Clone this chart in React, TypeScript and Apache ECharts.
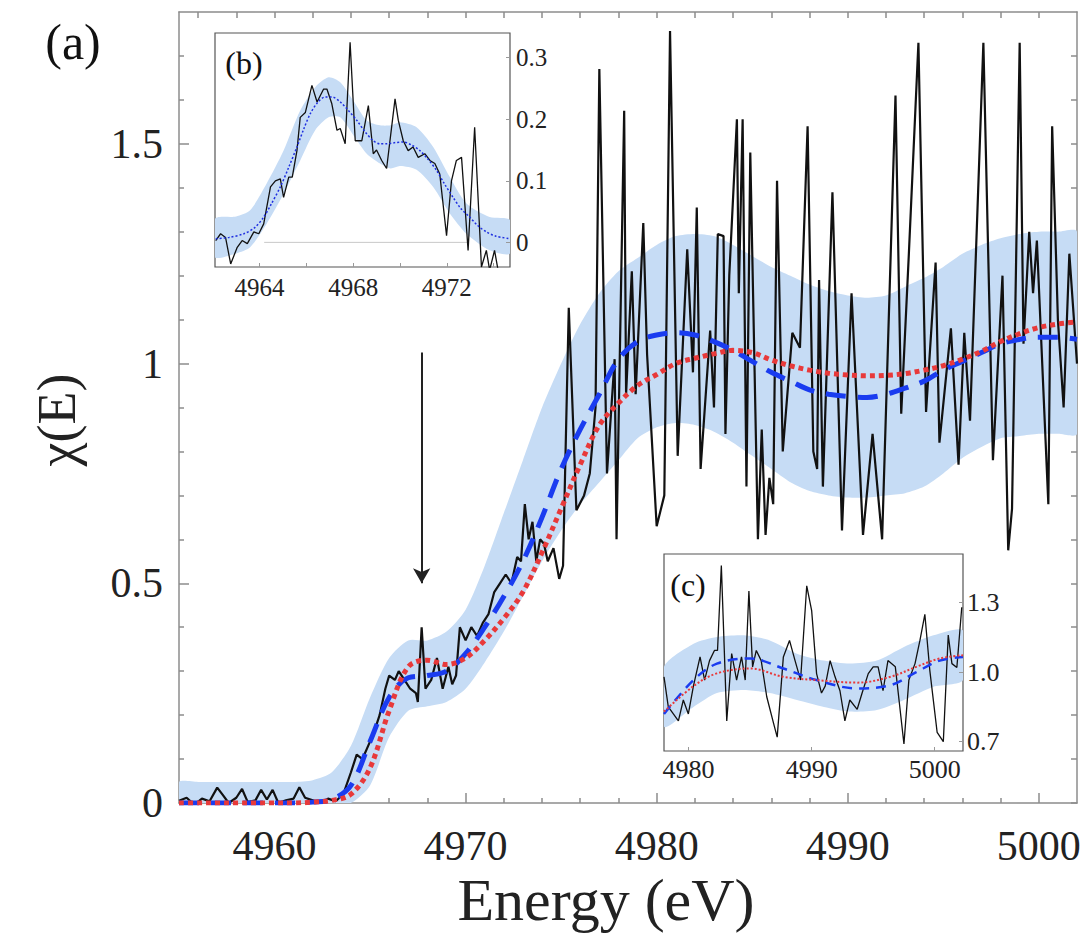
import React, { useEffect, useRef } from "react";
import * as echarts from "echarts";

// ---------------- data ----------------
// main panel (a): measured chi(E) [energy, chi]
const measuredMain: [number, number][] = [
  [4955.0, 0.005], [4955.4, 0.012], [4955.8, -0.004], [4956.2, 0.01], [4956.6, 0.004],
  [4957.0, 0.035], [4957.3, 0.018], [4957.6, 0.0], [4958.0, 0.012], [4958.3, 0.032],
  [4958.6, 0.002], [4959.0, 0.006], [4959.3, 0.03], [4959.6, 0.008], [4959.9, 0.03],
  [4960.2, 0.0], [4960.6, 0.006], [4961.0, 0.01], [4961.3, 0.036], [4961.6, 0.012],
  [4962.0, 0.006], [4962.4, 0.0], [4962.8, 0.01], [4963.2, 0.004], [4963.6, 0.02],
  [4964.0, 0.07], [4964.3, 0.11], [4964.6, 0.1], [4964.9, 0.13], [4965.2, 0.16],
  [4965.5, 0.2], [4965.8, 0.26], [4966.0, 0.29], [4966.3, 0.28], [4966.5, 0.3],
  [4966.8, 0.28], [4967.1, 0.26], [4967.4, 0.25], [4967.5, 0.23], [4967.7, 0.4],
  [4967.9, 0.26], [4968.2, 0.28], [4968.5, 0.33], [4968.8, 0.26], [4969.1, 0.31],
  [4969.3, 0.27], [4969.5, 0.29], [4969.7, 0.4], [4970.0, 0.37], [4970.3, 0.4],
  [4970.6, 0.38], [4970.9, 0.41], [4971.2, 0.43], [4971.5, 0.48], [4971.8, 0.5],
  [4972.1, 0.52], [4972.4, 0.5], [4972.7, 0.56], [4972.9, 0.55], [4973.1, 0.68],
  [4973.3, 0.6], [4973.5, 0.64], [4973.7, 0.55], [4973.9, 0.6], [4974.1, 0.59],
  [4974.3, 0.55], [4974.6, 0.58], [4974.9, 0.51], [4975.1, 0.54], [4975.4, 1.127],
  [4975.8, 0.666], [4976.2, 0.7], [4976.5, 0.75], [4976.8, 0.9], [4977.0, 1.67],
  [4977.4, 0.75], [4977.8, 1.01], [4977.9, 0.6], [4978.3, 1.575], [4978.4, 0.93],
  [4978.7, 1.21], [4978.9, 0.93], [4979.3, 1.32], [4979.5, 1.02], [4980.0, 0.63],
  [4980.4, 0.7], [4980.7, 1.757], [4981.1, 0.79], [4981.6, 1.26], [4981.9, 0.98],
  [4982.1, 1.355], [4982.3, 0.76], [4982.8, 1.075], [4983.0, 0.9], [4983.2, 1.295],
  [4983.5, 1.29], [4983.6, 0.84], [4983.8, 1.2], [4984.2, 1.556], [4984.3, 1.16],
  [4984.5, 1.556], [4984.7, 0.72], [4984.9, 1.48], [4985.3, 0.6], [4985.5, 0.85],
  [4985.7, 0.61], [4985.9, 0.74], [4986.1, 0.68], [4986.3, 1.416], [4986.6, 0.8],
  [4987.1, 1.07], [4987.5, 1.036], [4987.9, 1.54], [4988.2, 0.8], [4988.4, 0.76],
  [4988.5, 1.19], [4988.7, 0.72], [4989.2, 1.39], [4989.7, 0.62], [4990.2, 1.16],
  [4990.8, 0.61], [4991.3, 0.84], [4991.8, 0.6], [4992.5, 1.61], [4992.8, 0.886],
  [4993.2, 1.25], [4993.7, 1.73], [4994.1, 0.89], [4994.6, 1.23], [4994.8, 0.82],
  [4995.4, 1.08], [4995.8, 0.77], [4996.1, 1.07], [4996.4, 0.87], [4997.1, 1.73],
  [4997.6, 0.78], [4998.1, 1.2], [4998.4, 0.575], [4998.6, 0.67], [4999.0, 1.73],
  [4999.2, 1.045], [4999.5, 1.3], [4999.7, 1.16], [4999.9, 1.28], [5000.5, 0.68],
  [5000.7, 1.54], [5001.0, 1.1], [5001.3, 0.9], [5001.6, 1.25], [5002.0, 1.0],
];

// main panel fitted curves, on a 1 eV grid
const fitEnergy = [
  4955, 4956, 4957, 4958, 4959, 4960, 4961, 4962, 4963, 4964, 4965, 4966, 4967, 4968, 4969, 4970,
  4971, 4972, 4973, 4974, 4975, 4976, 4977, 4978, 4979, 4980, 4981, 4982, 4983, 4984, 4985, 4986,
  4987, 4988, 4989, 4990, 4991, 4992, 4993, 4994, 4995, 4996, 4997, 4998, 4999, 5000, 5001, 5002,
];
const meanMain = [
  0, 0, 0, 0, 0, 0, 0, 0.002, 0.008, 0.04, 0.14, 0.24, 0.285, 0.29, 0.3, 0.34,
  0.4, 0.47, 0.55, 0.65, 0.76, 0.85, 0.93, 1.01, 1.05, 1.065, 1.07, 1.065, 1.05, 1.03, 1.005, 0.98,
  0.96, 0.94, 0.93, 0.925, 0.923, 0.93, 0.944, 0.96, 0.985, 1.005, 1.025, 1.045, 1.055, 1.06, 1.06, 1.055,
];
const refMain = [
  0, 0, 0, 0, 0, 0, 0, 0.002, 0.006, 0.02, 0.08, 0.21, 0.31, 0.325, 0.315, 0.33,
  0.37, 0.42, 0.48, 0.57, 0.67, 0.77, 0.86, 0.91, 0.95, 0.975, 1.0, 1.012, 1.022, 1.03, 1.025, 1.008,
  0.995, 0.985, 0.978, 0.974, 0.972, 0.973, 0.977, 0.985, 0.995, 1.01, 1.028, 1.05, 1.068, 1.082, 1.09, 1.095,
];
const bandUpperMain = [
  0.048, 0.048, 0.048, 0.048, 0.048, 0.048, 0.048, 0.052, 0.07, 0.13, 0.24, 0.33, 0.37, 0.37, 0.39, 0.44,
  0.54, 0.66, 0.78, 0.9, 1.0, 1.09, 1.16, 1.21, 1.24, 1.27, 1.29, 1.295, 1.29, 1.27, 1.245, 1.22,
  1.2, 1.18, 1.165, 1.155, 1.15, 1.155, 1.175, 1.195, 1.22, 1.25, 1.27, 1.285, 1.295, 1.3, 1.3, 1.3,
];
const bandLowerMain = [
  -0.004, -0.004, -0.004, -0.004, -0.004, -0.004, -0.004, -0.004, -0.004, 0, 0.04, 0.15, 0.21, 0.22, 0.23, 0.26,
  0.32, 0.39, 0.47, 0.55, 0.62, 0.68, 0.73, 0.78, 0.83, 0.855, 0.865, 0.86, 0.845, 0.82, 0.79, 0.76,
  0.73, 0.71, 0.7, 0.695, 0.695, 0.7, 0.705, 0.72, 0.75, 0.785, 0.81, 0.83, 0.835, 0.84, 0.84, 0.84,
];

// arrow annotation (energy, from, to)
const arrowEnergy = 4967.7;
const arrowFrom = 1.025;
const arrowTo = 0.5;

// inset (b): pre-edge
const measuredB: [number, number][] = [
  [4962.13, 0.003], [4962.34, 0.014], [4962.55, 0.008], [4962.77, -0.035], [4963.05, -0.008],
  [4963.26, 0.003], [4963.48, -0.002], [4963.76, 0.017], [4963.97, 0.014], [4964.18, 0.03],
  [4964.47, 0.09], [4964.68, 0.1], [4964.89, 0.103], [4965.03, 0.073], [4965.25, 0.106],
  [4965.4, 0.106], [4965.6, 0.149], [4965.74, 0.203], [4965.96, 0.211], [4966.24, 0.255],
  [4966.46, 0.228], [4966.74, 0.249], [4966.88, 0.249], [4967.09, 0.225], [4967.31, 0.182],
  [4967.45, 0.185], [4967.66, 0.16], [4967.87, 0.325], [4968.09, 0.165], [4968.37, 0.165],
  [4968.65, 0.222], [4968.86, 0.144], [4969.0, 0.15], [4969.22, 0.133], [4969.43, 0.12],
  [4969.79, 0.233], [4969.93, 0.198], [4970.14, 0.165], [4970.35, 0.149], [4970.56, 0.155],
  [4970.78, 0.138], [4971.06, 0.144], [4971.28, 0.133], [4971.49, 0.128], [4971.7, 0.111],
  [4971.99, 0.011], [4972.2, 0.1], [4972.41, 0.133], [4972.63, 0.138], [4972.91, -0.013],
  [4973.19, 0.187], [4973.48, -0.04], [4973.69, -0.013], [4973.83, -0.045], [4974.04, -0.013],
  [4974.19, -0.045], [4974.4, -0.06],
];
const fitB: [number, number][] = [
  [4962.13, 0.006], [4962.7, 0.008], [4963.33, 0.014], [4963.8, 0.024], [4964.18, 0.041],
  [4964.5, 0.062], [4964.89, 0.09], [4965.25, 0.122], [4965.6, 0.155], [4965.9, 0.185],
  [4966.17, 0.209], [4966.5, 0.228], [4966.8, 0.236], [4967.1, 0.236], [4967.45, 0.228],
  [4967.8, 0.214], [4968.16, 0.198], [4968.5, 0.18], [4968.86, 0.165], [4969.15, 0.16],
  [4969.43, 0.16], [4969.8, 0.162], [4970.14, 0.163], [4970.5, 0.158], [4970.85, 0.149],
  [4971.2, 0.135], [4971.56, 0.117], [4971.9, 0.095], [4972.27, 0.073], [4972.6, 0.055],
  [4972.98, 0.041], [4973.3, 0.028], [4973.69, 0.017], [4974.1, 0.01], [4974.7, 0.006],
];
const bandEnergyB = [
  4962.1, 4963.0, 4963.6, 4964.3, 4965.03, 4965.74, 4966.38, 4966.95, 4967.45, 4968.01,
  4968.58, 4969.15, 4969.6, 4970.0, 4970.71, 4971.42, 4972.13, 4972.84, 4973.83, 4974.7,
];
const bandUpperB = [
  0.038, 0.042, 0.052, 0.095, 0.149, 0.214, 0.252, 0.268, 0.26, 0.23,
  0.198, 0.19, 0.19, 0.195, 0.187, 0.155, 0.106, 0.063, 0.041, 0.036,
];
const bandLowerB = [
  -0.024, -0.018, -0.008, 0.03, 0.079, 0.133, 0.182, 0.203, 0.203, 0.174,
  0.144, 0.128, 0.12, 0.124, 0.118, 0.09, 0.047, 0.014, -0.013, -0.018,
];
const baselineB: [number, number][] = [[4964.2, 0], [4972.9, 0]];

// inset (c): high-energy region
const measuredC: [number, number][] = [
  [4978.0, 0.98], [4978.35, 0.85], [4978.76, 0.82], [4979.17, 0.79], [4979.57, 0.88],
  [4979.98, 0.82], [4980.39, 0.94], [4980.93, 1.066], [4981.3, 0.966], [4981.7, 1.05],
  [4982.1, 1.094], [4982.35, 1.094], [4982.66, 1.46], [4983.1, 0.79], [4983.5, 1.08],
  [4983.9, 0.966], [4984.3, 1.066], [4984.6, 0.966], [4984.9, 1.35], [4985.2, 1.023],
  [4985.5, 1.094], [4985.9, 1.05], [4986.35, 0.894], [4986.9, 0.78], [4987.2, 0.72],
  [4987.7, 1.066], [4988.2, 1.137], [4988.65, 1.05], [4989.1, 0.966], [4989.6, 1.373],
  [4990.0, 1.266], [4990.4, 0.994], [4990.8, 0.91], [4991.1, 0.94], [4991.5, 1.05],
  [4991.9, 0.98], [4992.3, 0.92], [4992.7, 0.79], [4993.1, 0.88], [4993.7, 0.84],
  [4994.1, 0.91], [4994.6, 0.994], [4995.0, 1.023], [4995.4, 1.023], [4995.8, 0.92],
  [4996.2, 1.05], [4996.8, 1.023], [4997.5, 0.69], [4997.9, 0.966], [4998.4, 1.037],
  [4998.8, 1.137], [4999.2, 1.25], [4999.6, 1.009], [5000.2, 0.74], [5000.7, 0.7],
  [5001.1, 1.16], [5001.4, 1.037], [5001.8, 1.02], [5002.2, 1.28],
];
const fitEnergyC = [4978, 4980.4, 4982.3, 4985, 4987.7, 4990.4, 4993.7, 4996.4, 4998.5, 5000.4, 5002.3];
const meanC = [0.82, 0.966, 1.037, 1.059, 1.016, 0.966, 0.93, 0.944, 1.0, 1.05, 1.066];
const refC = [0.83, 0.94, 0.995, 1.016, 0.98, 0.966, 0.955, 0.98, 1.023, 1.059, 1.073];
const bandEnergyC = [4978, 4980.4, 4982.3, 4984.5, 4986.6, 4988.8, 4991.0, 4993.1, 4995.3, 4997.5, 4999.9, 5002.3];
const bandUpperC = [1.023, 1.123, 1.152, 1.159, 1.137, 1.08, 1.05, 1.037, 1.05, 1.109, 1.159, 1.18];
const bandLowerC = [0.765, 0.85, 0.91, 0.923, 0.91, 0.88, 0.85, 0.83, 0.837, 0.88, 0.937, 0.966];

// tick labels
const mainXLabels = [4960, 4970, 4980, 4990, 5000];
const mainXMinor = [4956, 4958, 4962, 4964, 4966, 4968, 4972, 4974, 4976, 4978, 4982, 4984, 4986, 4988, 4992, 4994, 4996, 4998];
const mainYLabels = [0, 0.5, 1, 1.5];
const mainYMinor = [0.1, 0.2, 0.3, 0.4, 0.6, 0.7, 0.8, 0.9, 1.1, 1.2, 1.3, 1.4, 1.6, 1.7];
const insetBXLabels = [4964, 4968, 4972];
const insetBXTicks = [4964, 4966, 4968, 4970, 4972, 4974];
const insetBYLabels = [0, 0.1, 0.2, 0.3];
const insetCXLabels = [4980, 4990, 5000];
const insetCYLabels = [0.7, 1.0, 1.3];

// ---------------- styling ----------------
const SERIF = "'Liberation Serif', 'DejaVu Serif', serif";
const AXIS_GRAY = "#8c8c8c";
const BAND = "#c6dcf5";
const BLUE = "#1a3cf0";
const RED = "#e8393a";
const BLACK = "#111111";

const pairs = (xs: number[], ys: number[]) => xs.map((x, i) => [x, ys[i]]);
const plain = (v: number) => String(v);

function bandSeries(name: string, xi: number, yi: number, xs: number[], up: number[], lo: number[], z: number) {
  return {
    name, type: "custom", xAxisIndex: xi, yAxisIndex: yi, z, silent: true,
    data: xs.map((x, i) => [x, lo[i], up[i]]),
    encode: { x: 0, y: [1, 2] },
    renderItem: (params: any, api: any) => {
      if (params.dataIndex !== 0) return null;
      const top = xs.map((x, i) => api.coord([x, up[i]]));
      const bottom = xs.map((x, i) => api.coord([x, lo[i]])).reverse();
      const cs = params.coordSys;
      return {
        type: "group",
        clipPath: { type: "rect", shape: { x: cs.x, y: cs.y, width: cs.width, height: cs.height } },
        children: [
          {
            type: "polygon",
            shape: { points: [...top, ...bottom], smooth: 0.25 },
            style: { fill: BAND, stroke: "none" },
          },
        ],
      };
    },
  };
}

function hiddenAxisBase() {
  return { splitLine: { show: false }, axisLabel: { show: false } };
}

export default function App() {
  const ref = useRef<HTMLDivElement>(null);
  useEffect(() => {
    if (!ref.current) return;
    const chart = echarts.init(ref.current, null, { renderer: "svg" });
    const tickStyle = { color: AXIS_GRAY, width: 1.5 };
    const labelBase = { color: "#222", fontFamily: SERIF, fontStyle: "normal", fontWeight: "normal" };
    const option: any = {
      animation: false,
      backgroundColor: "#ffffff",
      textStyle: { fontFamily: SERIF },
      grid: [
        { left: 179, top: 12, width: 898, height: 791, show: false, containLabel: false },
        { left: 215, top: 33, width: 295, height: 234, show: true, backgroundColor: "#ffffff", borderColor: "#555", borderWidth: 1.2, z: 20 },
        { left: 664, top: 554, width: 299, height: 197, show: true, backgroundColor: "#ffffff", borderColor: "#555", borderWidth: 1.2, z: 20 },
      ],
      xAxis: [
        {
          type: "value", gridIndex: 0, min: 4955, max: 5002, position: "bottom",
          axisLine: { show: true, onZero: false, lineStyle: tickStyle },
          axisTick: { show: true, inside: true, length: 10, customValues: mainXLabels, lineStyle: tickStyle },
          axisLabel: { show: true, customValues: mainXLabels, formatter: plain, fontSize: 42, margin: 22, ...labelBase },
          splitLine: { show: false },
        },
        {
          type: "value", gridIndex: 0, min: 4955, max: 5002, position: "bottom", ...hiddenAxisBase(),
          axisLine: { show: false, onZero: false },
          axisTick: { show: true, inside: true, length: 5, customValues: mainXMinor, lineStyle: tickStyle },
        },
        {
          type: "value", gridIndex: 0, min: 4955, max: 5002, position: "top", ...hiddenAxisBase(),
          axisLine: { show: true, onZero: false, lineStyle: tickStyle },
          axisTick: { show: true, inside: true, length: 6, customValues: [...mainXLabels, ...mainXMinor], lineStyle: tickStyle },
        },
        {
          type: "value", gridIndex: 1, min: 4962.1, max: 4974.7, position: "bottom", z: 25,
          axisLine: { show: false, onZero: false },
          axisTick: { show: true, inside: true, length: 4, customValues: insetBXTicks, lineStyle: { color: "#999" } },
          axisLabel: { show: true, customValues: insetBXLabels, formatter: plain, fontSize: 25, margin: 8, ...labelBase },
          splitLine: { show: false },
        },
        {
          type: "value", gridIndex: 2, min: 4978, max: 5002.3, position: "bottom", z: 25,
          axisLine: { show: false, onZero: false },
          axisTick: { show: true, inside: true, length: 4, customValues: insetCXLabels, lineStyle: { color: "#999" } },
          axisLabel: { show: true, customValues: insetCXLabels, formatter: plain, fontSize: 26, margin: 5, ...labelBase },
          splitLine: { show: false },
        },
      ],
      yAxis: [
        {
          type: "value", gridIndex: 0, min: 0, max: 1.8, position: "left",
          axisLine: { show: true, onZero: false, lineStyle: tickStyle },
          axisTick: { show: true, inside: true, length: 10, customValues: mainYLabels, lineStyle: tickStyle },
          axisLabel: { show: true, customValues: mainYLabels, formatter: plain, fontSize: 42, margin: 16, ...labelBase },
          splitLine: { show: false },
        },
        {
          type: "value", gridIndex: 0, min: 0, max: 1.8, position: "left", ...hiddenAxisBase(),
          axisLine: { show: false, onZero: false },
          axisTick: { show: true, inside: true, length: 5, customValues: mainYMinor, lineStyle: tickStyle },
        },
        {
          type: "value", gridIndex: 0, min: 0, max: 1.8, position: "right", ...hiddenAxisBase(),
          axisLine: { show: true, onZero: false, lineStyle: tickStyle },
          axisTick: { show: true, inside: true, length: 6, customValues: [...mainYLabels, ...mainYMinor], lineStyle: tickStyle },
        },
        {
          type: "value", gridIndex: 1, min: -0.04, max: 0.34, position: "right", z: 25,
          axisLine: { show: false, onZero: false },
          axisTick: { show: true, inside: true, length: 4, customValues: insetBYLabels, lineStyle: { color: "#999" } },
          axisLabel: { show: true, customValues: insetBYLabels, formatter: plain, fontSize: 25, margin: 6, ...labelBase },
          splitLine: { show: false },
        },
        {
          type: "value", gridIndex: 2, min: 0.66, max: 1.51, position: "right", z: 25,
          axisLine: { show: false, onZero: false },
          axisTick: { show: true, inside: true, length: 4, customValues: insetCYLabels, lineStyle: { color: "#999" } },
          axisLabel: {
            show: true, customValues: insetCYLabels, fontSize: 26, margin: 4, ...labelBase,
            formatter: (v: number) => v.toFixed(1),
          },
          splitLine: { show: false },
        },
      ],
      series: [
        bandSeries("bandMain", 0, 0, fitEnergy, bandUpperMain, bandLowerMain, 1),
        {
          name: "measured", type: "line", xAxisIndex: 0, yAxisIndex: 0, data: measuredMain,
          symbol: "none", lineStyle: { color: BLACK, width: 2.2 }, z: 2,
          markLine: {
            silent: true, symbol: ["none", "arrow"], symbolSize: [13, 15], label: { show: false },
            lineStyle: { color: "#222", width: 2, type: "solid" },
            data: [[{ coord: [arrowEnergy, arrowFrom] }, { coord: [arrowEnergy, arrowTo] }]],
          },
        },
        {
          name: "mean", type: "line", xAxisIndex: 0, yAxisIndex: 0, data: pairs(fitEnergy, meanMain),
          symbol: "none", smooth: 0.35, lineStyle: { color: BLUE, width: 5, type: [20, 12] }, z: 3,
        },
        {
          name: "reference", type: "line", xAxisIndex: 0, yAxisIndex: 0, data: pairs(fitEnergy, refMain),
          symbol: "none", smooth: 0.35, lineStyle: { color: RED, width: 5, type: [5, 4] }, z: 4,
        },
        // inset (b)
        bandSeries("bandB", 3, 3, bandEnergyB, bandUpperB, bandLowerB, 21),
        {
          name: "baselineB", type: "line", xAxisIndex: 3, yAxisIndex: 3, data: baselineB,
          symbol: "none", lineStyle: { color: "#c8c8c8", width: 1 }, z: 22,
        },
        {
          name: "measuredB", type: "line", xAxisIndex: 3, yAxisIndex: 3, data: measuredB,
          symbol: "none", lineStyle: { color: BLACK, width: 1.3 }, z: 23,
        },
        {
          name: "fitB", type: "line", xAxisIndex: 3, yAxisIndex: 3, data: fitB,
          symbol: "none", smooth: 0.3, lineStyle: { color: "#1f2fe0", width: 1.5, type: [2, 2] }, z: 24,
        },
        // inset (c)
        bandSeries("bandC", 4, 4, bandEnergyC, bandUpperC, bandLowerC, 21),
        {
          name: "measuredC", type: "line", xAxisIndex: 4, yAxisIndex: 4, data: measuredC,
          symbol: "none", lineStyle: { color: BLACK, width: 1.3 }, z: 23,
        },
        {
          name: "meanC", type: "line", xAxisIndex: 4, yAxisIndex: 4, data: pairs(fitEnergyC, meanC),
          symbol: "none", smooth: 0.35, lineStyle: { color: BLUE, width: 2.5, type: [10, 7] }, z: 24,
        },
        {
          name: "refC", type: "line", xAxisIndex: 4, yAxisIndex: 4, data: pairs(fitEnergyC, refC),
          symbol: "none", smooth: 0.35, lineStyle: { color: RED, width: 2, type: [2, 2] }, z: 25,
        },
      ],
      graphic: [
        { type: "text", x: 73, y: 42, z: 100, style: { text: "(a)", fontSize: 50, fontFamily: SERIF, fill: "#111", textAlign: "center", textVerticalAlign: "middle" } },
        { type: "text", x: 244, y: 63, z: 100, style: { text: "(b)", fontSize: 32, fontFamily: SERIF, fill: "#111", textAlign: "center", textVerticalAlign: "middle" } },
        { type: "text", x: 688, y: 585, z: 100, style: { text: "(c)", fontSize: 32, fontFamily: SERIF, fill: "#111", textAlign: "center", textVerticalAlign: "middle" } },
        { type: "text", x: 606, y: 900, z: 100, style: { text: "Energy (eV)", fontSize: 60, fontFamily: SERIF, fill: "#222", textAlign: "center", textVerticalAlign: "middle" } },
        { type: "text", x: 57, y: 420, rotation: Math.PI / 2, z: 100, style: { text: "χ(E)", fontSize: 54, fontFamily: SERIF, fill: "#222", textAlign: "center", textVerticalAlign: "middle" } },
      ],
    };
    chart.setOption(option);
    return () => chart.dispose();
  }, []);
  return <div ref={ref} style={{ position: "absolute", left: 0, top: 0, width: 1086, height: 934 }} />;
}
